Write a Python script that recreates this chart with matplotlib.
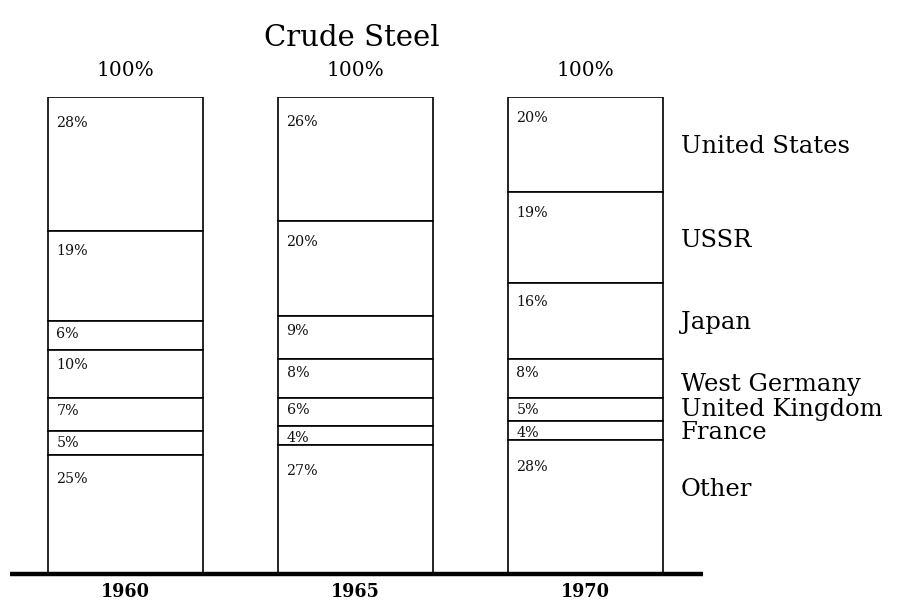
import matplotlib
matplotlib.use("Agg")
import matplotlib.pyplot as plt
import numpy as np

years = ["1960", "1965", "1970"]
countries = ["United States", "USSR", "Japan", "West Germany",
             "United Kingdom", "France", "Other"]
share_1960 = [28, 19, 6, 10, 7, 5, 25]
share_1965 = [26, 20, 9, 8, 6, 4, 27]
share_1970 = [20, 19, 16, 8, 5, 4, 28]
totals = ["100%", "100%", "100%"]
title = "Crude Steel"

data = np.array([share_1960, share_1965, share_1970])  # years x countries

fig = plt.figure(figsize=(9, 6.13), dpi=100)
ax = fig.add_axes([0, 39 / 613, 1, 477 / 613])
ax.set_xlim(-125.5 / 230, (900 - 125.5) / 230)
ax.set_ylim(0, 100)
ax.axis("off")

width = 0.67
xs = np.arange(len(years))
serif = "DejaVu Serif"

for i, x in enumerate(xs):
    top = 100.0
    for j, v in enumerate(data[i]):
        bottom = top - v
        ax.bar(x, v, width=width, bottom=bottom, facecolor="white",
               edgecolor="black", linewidth=1.2, zorder=2)
        ax.text(x - width / 2 + 0.035, top - 1.9 - 0.13 * v, f"{v}%",
                ha="left", va="center", fontsize=10.3, family=serif,
                color="#111111", zorder=3)
        top = bottom
    ax.text(x, 105.6, totals[i], ha="center", va="center", fontsize=14.5,
            family=serif)
    ax.text(x, -1.9, years[i], ha="center", va="top", fontsize=14,
            family=serif, fontweight="bold", fontstretch="condensed")

# baseline
ax.plot([-0.502, 2.511], [0, 0], color="black", linewidth=3.2,
        solid_capstyle="butt", zorder=4, clip_on=False)

# right-hand country labels aligned with the 1970 column
label_adjust = [-0.4, -0.6, -0.2, -1.3, 0.0, -0.4, 3.8]
cum = 100 - np.cumsum(data[-1]) + data[-1] / 2
for name, yc, adj in zip(countries, cum, label_adjust):
    ax.text((681 - 125.5) / 230, yc + adj, name, ha="left", va="center",
            fontsize=17.5, family=serif)

fig.text(352 / 900, 1 - 38 / 613, title, ha="center", va="center",
         fontsize=21, family=serif)

fig.savefig("out.png", dpi=100, facecolor="white")
